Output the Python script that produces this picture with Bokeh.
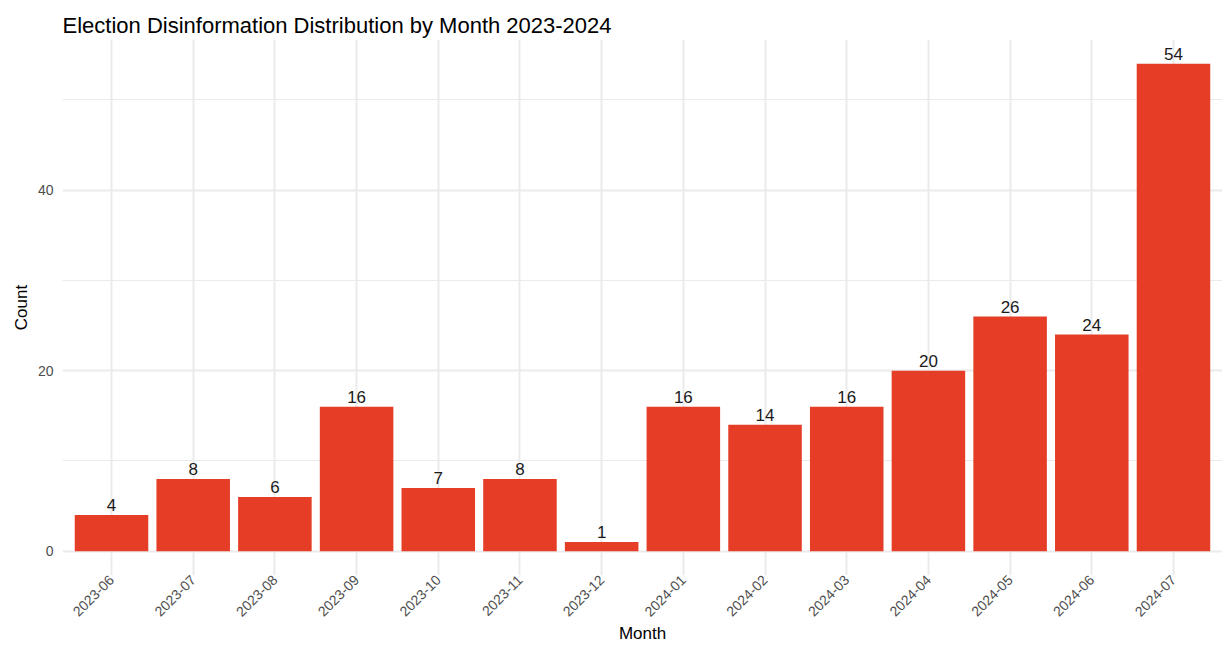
import math
from bokeh.plotting import figure
from bokeh.models import ColumnDataSource, Range1d, FixedTicker
from bokeh.embed import file_html
from bokeh.resources import INLINE

months = ["2023-06", "2023-07", "2023-08", "2023-09", "2023-10", "2023-11", "2023-12",
          "2024-01", "2024-02", "2024-03", "2024-04", "2024-05", "2024-06", "2024-07"]
counts = [4, 8, 6, 16, 7, 8, 1, 16, 14, 16, 20, 26, 24, 54]
y_major_ticks = [0, 20, 40]
y_minor_ticks = [10, 30, 50]

title_text = "Election Disinformation Distribution by Month 2023-2024"
x_title = "Month"
y_title = "Count"

FONT = "Liberation Sans"
BAR_COLOR = "#E53D26"
GRID = "#EBEBEB"

xs = list(range(1, len(months) + 1))
src = ColumnDataSource(dict(x=xs, count=counts, label=[str(c) for c in counts]))

ymax = max(counts)
p = figure(frame_width=1160, frame_height=536, output_backend="svg", toolbar_location=None,
           x_range=Range1d(0.4, len(months) + 0.6),
           y_range=Range1d(-0.05 * ymax, 1.05 * ymax),
           min_border_left=62, min_border_right=0, min_border_top=39, min_border_bottom=0)

p.title.text = title_text
p.title.text_font = FONT
p.title.text_font_size = "22px"
p.title.text_font_style = "normal"
p.title.text_color = "#000000"
p.title.align = "left"
p.title.offset = 0
p.title.standoff = 4

p.vbar(x="x", top="count", bottom=0, width=0.9, source=src,
       fill_color=BAR_COLOR, line_color=None)
p.text(x="x", y="count", text="label", source=src, y_offset=-4,
       text_align="center", text_baseline="bottom",
       text_font={"value": FONT}, text_font_size={"value": "17px"}, text_color="#1A1A1A")

p.outline_line_color = None
p.background_fill_color = "white"
p.border_fill_color = "white"

# x axis
p.xaxis.ticker = FixedTicker(ticks=xs)
p.xaxis.major_label_overrides = {x: m for x, m in zip(xs, months)}
p.xaxis.major_label_orientation = math.pi / 4
p.xaxis.axis_label = x_title
# y axis
p.yaxis.ticker = FixedTicker(ticks=y_major_ticks, minor_ticks=y_minor_ticks)
p.yaxis.axis_label = y_title

for ax in (p.xaxis, p.yaxis):
    ax.axis_line_color = None
    ax.major_tick_line_color = None
    ax.minor_tick_line_color = None
    ax.major_tick_out = 0
    ax.major_tick_in = 0
    ax.minor_tick_out = 0
    ax.minor_tick_in = 0
    ax.major_label_text_font = FONT
    ax.major_label_text_font_size = "14px"
    ax.major_label_text_color = "#4D4D4D"
    ax.axis_label_text_font = FONT
    ax.axis_label_text_font_size = "17px"
    ax.axis_label_text_font_style = "normal"
    ax.axis_label_text_color = "#000000"
    ax.axis_label_standoff = 0

p.xaxis.major_label_standoff = 2
p.yaxis.major_label_standoff = 9
p.yaxis.axis_label_standoff = 4

p.xgrid.grid_line_color = GRID
p.xgrid.grid_line_width = 2
p.ygrid.grid_line_color = GRID
p.ygrid.grid_line_width = 2
p.ygrid.minor_grid_line_color = GRID
p.ygrid.minor_grid_line_width = 1

open("out.html", "w").write(file_html(p, INLINE))
